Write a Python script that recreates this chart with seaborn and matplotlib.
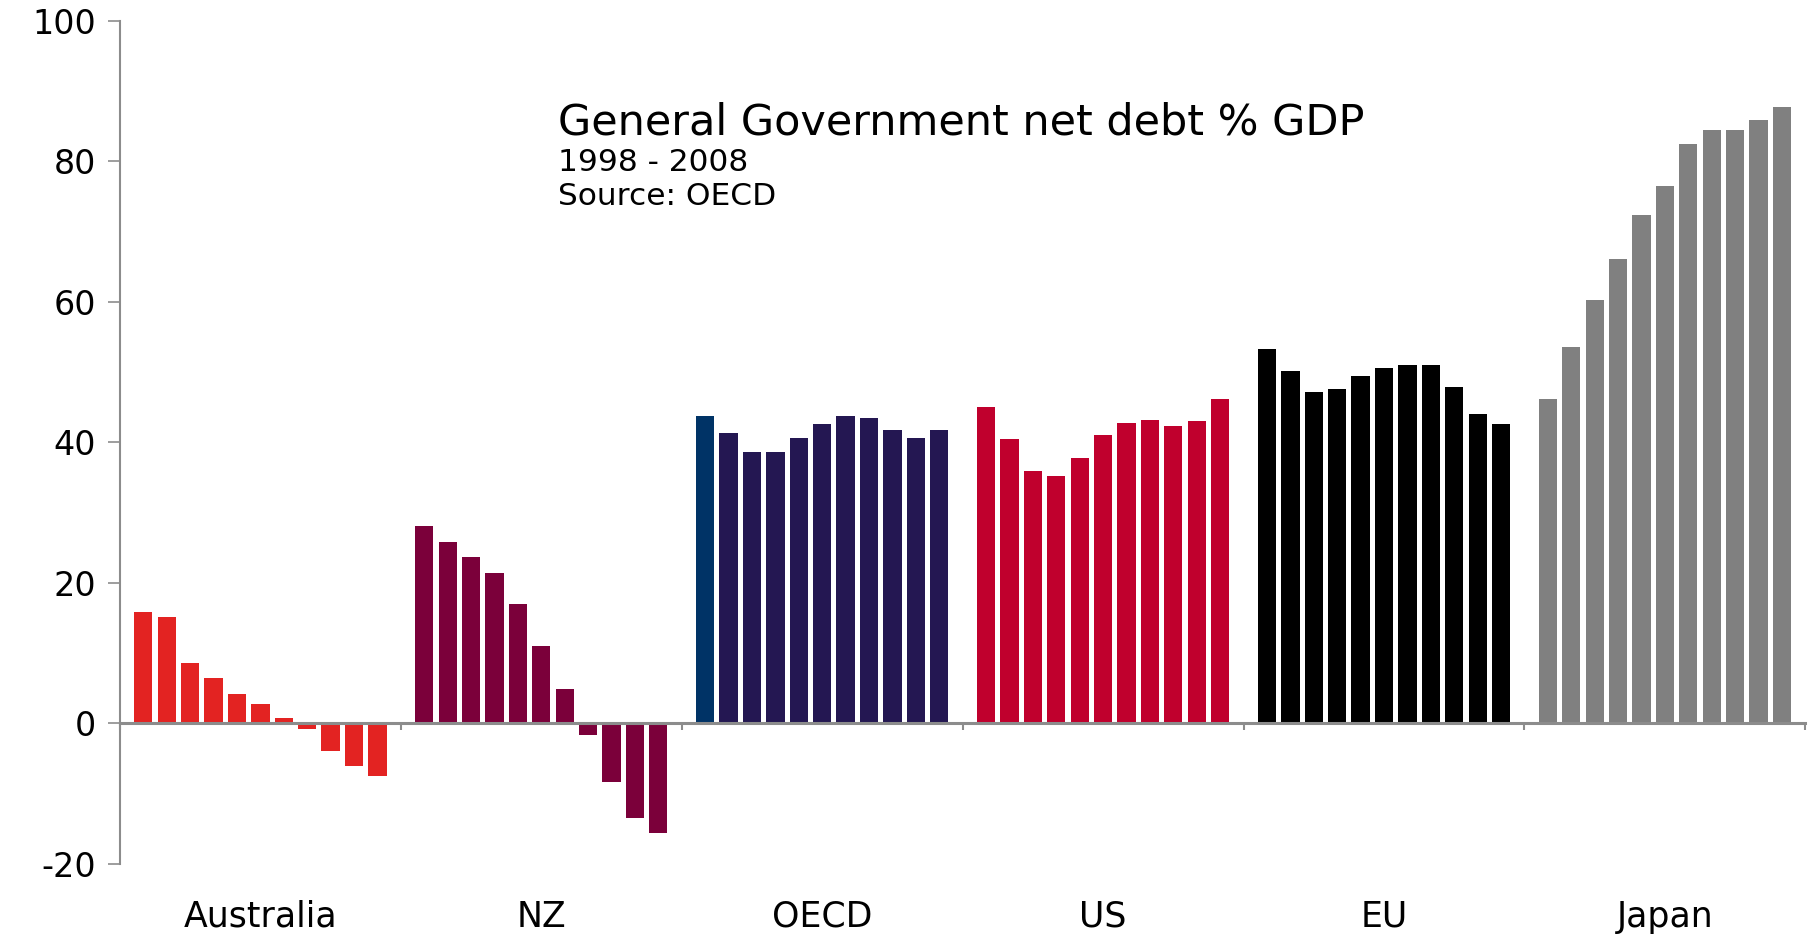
"""
General Government net debt % GDP, 1998-2008 (OECD) - grouped bar chart.
"""

import numpy as np
import pandas as pd
import matplotlib
matplotlib.use('Agg')
import matplotlib.pyplot as plt
import seaborn as sns

# ============================================================================
# DATA
# ============================================================================

regions = ['Australia', 'NZ', 'OECD', 'US', 'EU', 'Japan']
years = [str(y) for y in range(1998, 2009)]

australia = [15.9, 15.1, 8.6, 6.4, 4.2, 2.7, 0.8, -0.8, -4.0, -6.0, -7.5]
nz = [28.1, 25.8, 23.7, 21.4, 17.0, 11.0, 4.9, -1.7, -8.4, -13.5, -15.6]
oecd = [43.8, 41.3, 38.6, 38.6, 40.6, 42.6, 43.8, 43.4, 41.7, 40.6, 41.7]
us = [45.0, 40.4, 35.9, 35.2, 37.7, 41.0, 42.7, 43.1, 42.3, 43.0, 46.1]
eu = [53.3, 50.1, 47.2, 47.6, 49.4, 50.6, 51.0, 51.0, 47.9, 44.0, 42.6]
japan = [46.1, 53.6, 60.3, 66.1, 72.4, 76.4, 82.5, 84.4, 84.4, 85.9, 87.7]

region_colors = ['#E32322', '#7B003A', '#241752', '#C0002D', '#000000', '#808080']
oecd_first_color = '#003366'

y_ticks = [-20, 0, 20, 40, 60, 80, 100]

title_lines = ['General Government net debt % GDP', '1998 - 2008', 'Source: OECD']

# ============================================================================
# BUILD TABLE
# ============================================================================

series = [australia, nz, oecd, us, eu, japan]
rows = []
for region, values in zip(regions, series):
    for year, v in zip(years, values):
        rows.append({'region': region, 'year': year, 'debt': v})
df = pd.DataFrame(rows)

# ============================================================================
# PLOT
# ============================================================================

sns.set_style('white')
plt.rcParams['font.family'] = ['DejaVu Sans']
plt.rcParams['axes.unicode_minus'] = False
plt.rcParams['text.color'] = 'black'

axis_grey = '#8C8C8C'

fig = plt.figure(figsize=(18.09, 9.36), dpi=100)
ax = fig.add_axes([0.0663, 0.077, 0.9317, 0.901])

sns.barplot(data=df, x='region', y='debt', hue='year', order=regions,
            hue_order=years, width=11 / 12, gap=0.22, dodge=True,
            palette=['#000000'] * len(years), legend=False, ax=ax,
            saturation=1, errorbar=None)

# recolour bars by region (first OECD year is a different shade)
for hue_idx, container in enumerate(ax.containers):
    for bar in container:
        cat = int(round(bar.get_x() + bar.get_width() / 2))
        color = region_colors[cat]
        if regions[cat] == 'OECD' and hue_idx == 0:
            color = oecd_first_color
        bar.set_facecolor(color)
        bar.set_edgecolor('none')

ax.set_ylim(-20, 100)
ax.set_xlim(-0.5, len(regions) - 0.5)
ax.set_yticks(y_ticks)
ax.set_yticklabels([str(t) for t in y_ticks])
ax.set_xlabel('')
ax.set_ylabel('')

for side in ['top', 'right']:
    ax.spines[side].set_visible(False)
ax.spines['left'].set_color(axis_grey)
ax.spines['left'].set_linewidth(1.5)
ax.spines['bottom'].set_position(('data', 0))
ax.spines['bottom'].set_color(axis_grey)
ax.spines['bottom'].set_linewidth(2.2)

ax.tick_params(axis='y', which='major', direction='out', length=9, width=1.2,
               color=axis_grey, pad=8, labelsize=24, labelcolor='black', left=True)
ax.set_xticks(np.arange(-0.5, len(regions)), minor=True)
ax.tick_params(axis='x', which='minor', direction='out', length=5, width=1.5,
               color=axis_grey, bottom=True)
ax.tick_params(axis='x', which='major', length=0, pad=127, labelsize=25,
               labelcolor='black')

fig.text(0.3085, 0.869, title_lines[0], fontsize=31, va='center', ha='left', color='black')
fig.text(0.3085, 0.8265, title_lines[1], fontsize=22.5, va='center', ha='left', color='black')
fig.text(0.3085, 0.7905, title_lines[2], fontsize=22.5, va='center', ha='left', color='black')

plt.savefig('out.png', dpi=100)
plt.close()
